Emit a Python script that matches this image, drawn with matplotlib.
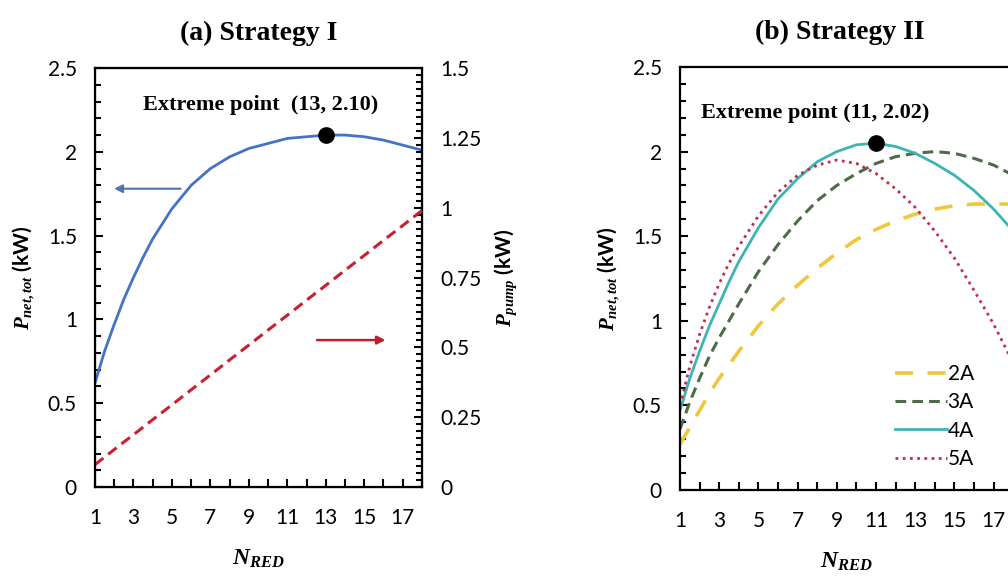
import matplotlib
matplotlib.use('Agg')
from matplotlib import pyplot as plt
from matplotlib.ticker import MultipleLocator

plt.rcParams['font.family'] = ['Lato', 'DejaVu Sans']
plt.rcParams['mathtext.fontset'] = 'custom'
plt.rcParams['mathtext.it'] = 'Liberation Serif:bold:italic'
plt.rcParams['mathtext.rm'] = 'Liberation Serif:bold'
plt.rcParams['mathtext.bf'] = 'Liberation Serif:bold'

# ---- data ----
# half steps at the steep start, then whole numbers
n_red = [1, 1.5, 2, 2.5, 3, 3.5, 4, 5, 6, 7, 8, 9, 10, 11, 12, 13, 14, 15, 16, 17, 18]

# (a) Strategy I
p_net_a = [0.62, 0.81, 0.97, 1.12, 1.25, 1.37, 1.48, 1.66, 1.80, 1.90, 1.97,
           2.02, 2.05, 2.08, 2.09, 2.10, 2.10, 2.09, 2.07, 2.04, 2.01]
p_pump_a = [0.080, 0.107, 0.134, 0.161, 0.187, 0.214, 0.241, 0.294, 0.348, 0.401, 0.455,
            0.508, 0.562, 0.615, 0.669, 0.722, 0.776, 0.829, 0.883, 0.936, 0.990]
extreme_a = (13, 2.10)

# (b) Strategy II
p_2a = [0.27, 0.37, 0.47, 0.57, 0.66, 0.74, 0.82, 0.97, 1.10, 1.21, 1.31,
        1.40, 1.48, 1.54, 1.59, 1.63, 1.66, 1.68, 1.69, 1.69, 1.69]
p_3a = [0.36, 0.52, 0.66, 0.79, 0.90, 1.00, 1.10, 1.29, 1.45, 1.59, 1.71,
        1.80, 1.87, 1.93, 1.97, 1.99, 2.00, 1.99, 1.96, 1.92, 1.86]
p_4a = [0.47, 0.66, 0.82, 0.97, 1.10, 1.23, 1.35, 1.55, 1.72, 1.84, 1.94,
        2.00, 2.04, 2.05, 2.03, 1.99, 1.93, 1.86, 1.77, 1.66, 1.53]
p_5a = [0.50, 0.73, 0.92, 1.08, 1.22, 1.34, 1.44, 1.62, 1.76, 1.86, 1.92,
        1.95, 1.93, 1.87, 1.78, 1.67, 1.53, 1.37, 1.18, 0.98, 0.75]
extreme_b = (11, 2.05)

x_ticks = list(range(1, 19))
x_labels = [str(i) if i % 2 else '' for i in x_ticks]
left_ticks = [0, 0.5, 1, 1.5, 2, 2.5]
left_labels = ['0', '0.5', '1', '1.5', '2', '2.5']
right_ticks = [0, 0.25, 0.5, 0.75, 1, 1.25, 1.5]
right_labels = ['0', '0.25', '0.5', '0.75', '1', '1.25', '1.5']

serif_bold = dict(family='Liberation Serif', fontweight='bold')


def style_axes(ax):
    ax.set_xlim(1, 18)
    ax.set_ylim(0, 2.5)
    ax.set_xticks(x_ticks)
    ax.set_xticklabels(x_labels)
    ax.set_yticks(left_ticks)
    ax.set_yticklabels(left_labels)
    ax.yaxis.set_minor_locator(MultipleLocator(0.1))
    ax.tick_params(axis='both', which='both', direction='in', labelsize=15,
                   width=1.5, top=False, right=False)
    ax.tick_params(axis='both', which='major', length=6)
    ax.tick_params(axis='x', which='major', pad=15)
    ax.tick_params(axis='y', which='major', pad=13)
    ax.tick_params(axis='y', which='minor', length=4)
    for sp in ax.spines.values():
        sp.set_linewidth(1.6)
    ax.set_xlabel('$N_{RED}$', fontsize=17, labelpad=14)
    ax.set_ylabel('$P_{net,tot}$ (kW)', fontsize=15, fontweight='bold', labelpad=8)


fig = plt.figure(figsize=(10.08, 5.8), dpi=100)

# ---------------- (a) ----------------
ax1 = fig.add_axes([0.0942, 0.1603, 0.3244, 0.7224])
style_axes(ax1)
ax1.plot(n_red, p_net_a, color='#4472C4', linewidth=2)
ax1.plot(*extreme_a, 'o', color='black', markersize=11, zorder=5)
ax1.text(9.6, 2.28, 'Extreme point  (13, 2.10)', ha='center', va='center',
         fontsize=16, **serif_bold)
ax1.annotate('', xy=(1.85, 1.78), xytext=(5.6, 1.78),
             arrowprops=dict(arrowstyle='-|>', color='#4F74B4', lw=1.5,
                             mutation_scale=12))
ax1.set_title('(a) Strategy I', fontsize=20, pad=20, **serif_bold)

ax1r = ax1.twinx()
ax1r.plot(n_red, p_pump_a, color='#C8202E', linewidth=2.2, linestyle=(0, (3.5, 2)))
ax1r.set_ylim(0, 1.5)
ax1r.set_yticks(right_ticks)
ax1r.set_yticklabels(right_labels)
ax1r.yaxis.set_minor_locator(MultipleLocator(0.025))
ax1r.tick_params(axis='y', which='both', direction='in', labelsize=15, width=1.5)
ax1r.tick_params(axis='y', which='major', length=6, pad=13)
ax1r.tick_params(axis='y', which='minor', length=4)
ax1r.set_ylabel('$P_{pump}$ (kW)', fontsize=15, fontweight='bold', labelpad=8)
ax1r.annotate('', xy=(16.25, 0.526), xytext=(12.4, 0.526),
              arrowprops=dict(arrowstyle='-|>', color='#B8202C', lw=1.8,
                              mutation_scale=12))

# ---------------- (b) ----------------
ax2 = fig.add_axes([0.6746, 0.1552, 0.3306, 0.7293])
style_axes(ax2)
ax2.plot(n_red, p_2a, color='#EFC73A', linewidth=2.6, linestyle=(0, (5, 4)), label='2A')
ax2.plot(n_red, p_3a, color='#4E6B47', linewidth=2.2, linestyle=(0, (3.5, 2)), label='3A')
ax2.plot(n_red, p_4a, color='#3CB4B4', linewidth=2, label='4A')
ax2.plot(n_red, p_5a, color='#C0304A', linewidth=2, linestyle=(0, (1, 1.6)), label='5A')
ax2.plot(*extreme_b, 'o', color='black', markersize=11, zorder=5)
ax2.text(7.9, 2.23, 'Extreme point (11, 2.02)', ha='center', va='center',
         fontsize=16, **serif_bold)
ax2.legend(loc='lower left', bbox_to_anchor=(0.6, 0.015), frameon=False,
           fontsize=15, handlelength=2.5, handletextpad=0.05, labelspacing=0.4,
           borderpad=0.2)
ax2.set_title('(b) Strategy II', fontsize=20, pad=20, x=0.48, **serif_bold)

fig.savefig('out.png', dpi=100)
